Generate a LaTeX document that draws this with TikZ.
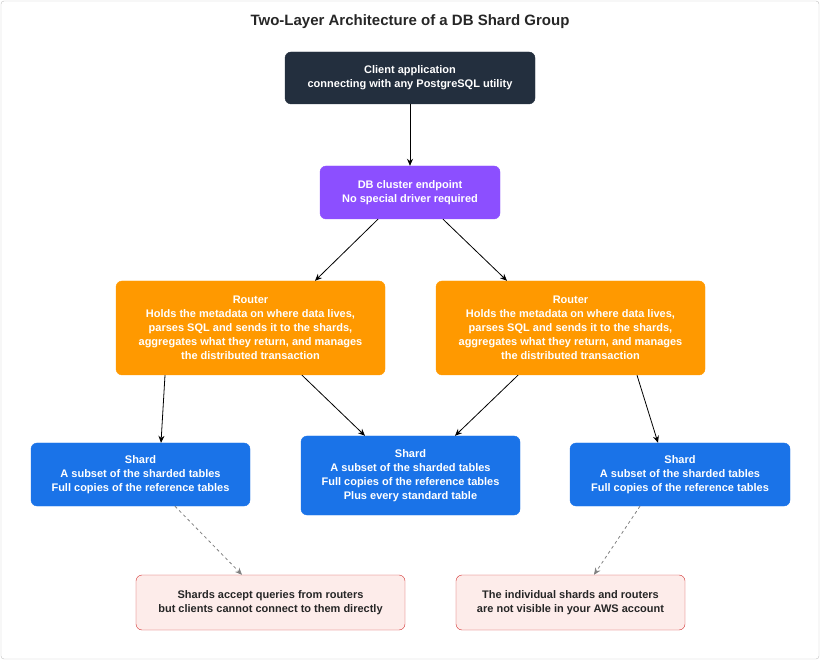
\documentclass[tikz,border=0pt]{standalone}
\usepackage{fontspec}
\setmainfont{Liberation Sans}
\usetikzlibrary{arrows.meta}
\definecolor{dark}{HTML}{232F3E}
\definecolor{purp}{HTML}{8C4FFF}
\definecolor{orng}{HTML}{FF9900}
\definecolor{blu}{HTML}{1A73E8}
\definecolor{notef}{HTML}{FDECEA}
\definecolor{noted}{HTML}{D32F2F}
\begin{document}
\begin{tikzpicture}[x=1pt,y=-1pt,
  box/.style={draw=#1,fill=#1,rounded corners=6pt,text=white,font=\bfseries\fontsize{11}{14}\selectfont,align=center,inner sep=0pt},
  note/.style={draw=noted,fill=notef,rounded corners=6pt,text=black!85,font=\bfseries\fontsize{11}{14}\selectfont,align=center,inner sep=0pt},
  arr/.style={-{Stealth[length=7pt,width=6pt]},thick,black},
  darr/.style={-{Stealth[length=7pt,width=6pt]},thick,gray,dashed}]
\useasboundingbox (0,0) rectangle (820,660);
\draw[gray!50,rounded corners=3pt] (1,1) rectangle (819,659);
\node[font=\bfseries\fontsize{15}{18}\selectfont,text=black!85] (title) at (410,22) {Two-Layer Architecture of a DB Shard Group};
\node[box=dark,minimum width=250pt,minimum height=52pt] (client) at (410,78) {Client application\\connecting with any PostgreSQL utility};
\node[box=purp,minimum width=180pt,minimum height=53pt] (ep) at (410,192.5) {DB cluster endpoint\\No special driver required};
\node[box=orng,minimum width=269pt,minimum height=94pt] (r1) at (250.5,328) {Router\\Holds the metadata on where data lives,\\parses SQL and sends it to the shards,\\aggregates what they return, and manages\\the distributed transaction};
\node[box=orng,minimum width=269pt,minimum height=94pt] (r2) at (570.5,328) {Router\\Holds the metadata on where data lives,\\parses SQL and sends it to the shards,\\aggregates what they return, and manages\\the distributed transaction};
\node[box=blu,minimum width=219pt,minimum height=63pt] (s1) at (140.5,474.5) {Shard\\A subset of the sharded tables\\Full copies of the reference tables};
\node[box=blu,minimum width=219pt,minimum height=79pt] (s2) at (410.5,475.5) {Shard\\A subset of the sharded tables\\Full copies of the reference tables\\Plus every standard table};
\node[box=blu,minimum width=220pt,minimum height=63pt] (s3) at (680,474.5) {Shard\\A subset of the sharded tables\\Full copies of the reference tables};
\node[note,minimum width=269pt,minimum height=55pt] (n1) at (270.5,602.5) {Shards accept queries from routers\\but clients cannot connect to them directly};
\node[note,minimum width=229pt,minimum height=55pt] (n2) at (570.5,602.5) {The individual shards and routers\\are not visible in your AWS account};
\draw[arr] (client.south) -- (ep.north);
\draw[arr] ([xshift=-32pt]ep.south) -- ([xshift=64.5pt]r1.north);
\draw[arr] ([xshift=33pt]ep.south) -- ([xshift=-63.5pt]r2.north);
\draw[arr] ([xshift=-85.5pt]r1.south) -- ([xshift=20.5pt]s1.north);
\draw[arr] ([xshift=51.5pt]r1.south) -- ([xshift=-45.5pt]s2.north);
\draw[arr] ([xshift=-52.5pt]r2.south) -- ([xshift=44.5pt]s2.north);
\draw[arr] ([xshift=66.5pt]r2.south) -- ([xshift=-22pt]s3.north);
\draw[darr] ([xshift=34.5pt]s1.south) -- ([xshift=-28.5pt]n1.north);
\draw[darr] ([xshift=-40pt]s3.south) -- ([xshift=23.5pt]n2.north);
\end{tikzpicture}
\end{document}
